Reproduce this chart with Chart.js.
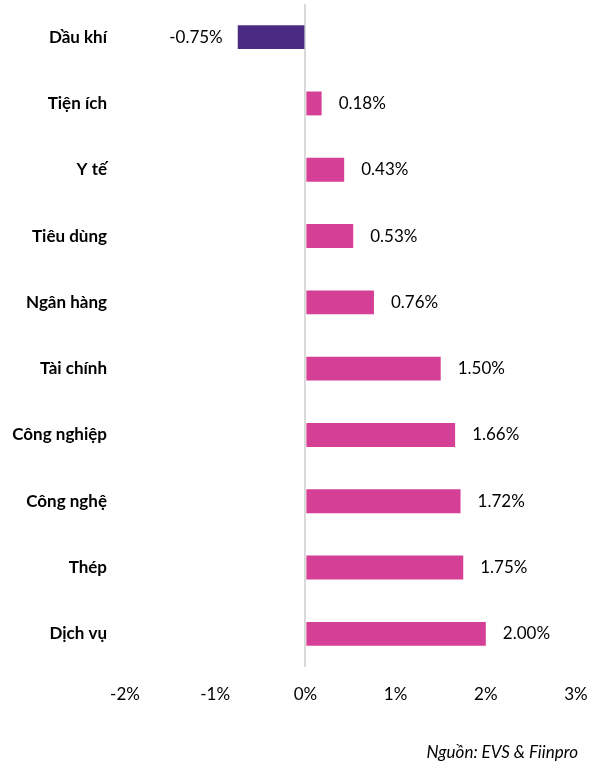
<!DOCTYPE html>
<html>
<head>
<meta charset="utf-8">
<script src="https://cdn.jsdelivr.net/npm/chart.js@4"></script>
<style>
  html, body { margin: 0; padding: 0; background: #fff; }
  #wrap { width: 589px; height: 765px; }
</style>
</head>
<body>
<div id="wrap"><canvas id="chart" width="589" height="765"></canvas></div>
<script>
const sectors = ["Dầu khí", "Tiện ích", "Y tế", "Tiêu dùng", "Ngân hàng", "Tài chính", "Công nghiệp", "Công nghệ", "Thép", "Dịch vụ"];
const changes = [-0.75, 0.18, 0.43, 0.53, 0.76, 1.50, 1.66, 1.72, 1.75, 2.00];
const xTicks = [-2, -1, 0, 1, 2, 3];
const sourceNote = "Nguồn: EVS & Fiinpro";

const FONT = "Lato, 'Open Sans', sans-serif";
const FS = 17;

// nhãn giá trị cạnh mỗi thanh + ghi chú nguồn
const valueLabels = {
  id: "valueLabels",
  afterDatasetsDraw(chart) {
    const ctx = chart.ctx;
    const meta = chart.getDatasetMeta(0);
    const xs = chart.scales.x;
    ctx.save();
    ctx.font = FS + "px " + FONT;
    ctx.fillStyle = "#000";
    ctx.textBaseline = "middle";
    meta.data.forEach((bar, i) => {
      const v = changes[i];
      const px = xs.getPixelForValue(v);
      const txt = v.toFixed(2) + "%";
      if (v < 0) {
        ctx.textAlign = "right";
        ctx.fillText(txt, px - 15, bar.y);
      } else {
        ctx.textAlign = "left";
        ctx.fillText(txt, px + 17, bar.y);
      }
    });
    ctx.font = "italic " + FS + "px " + FONT;
    ctx.textAlign = "right";
    ctx.fillText(sourceNote, 578, 753);
    ctx.restore();
  },
};

new Chart(document.getElementById("chart"), {
  type: "bar",
  data: {
    labels: sectors,
    datasets: [{
      data: changes,
      backgroundColor: changes.map((v) => (v < 0 ? "#4b2a84" : "#d63f96")),
      categoryPercentage: 1,
      barPercentage: 0.36,
    }],
  },
  options: {
    indexAxis: "y",
    responsive: false,
    animation: false,
    layout: { padding: { top: 4, right: 13, left: 0, bottom: 0 } },
    plugins: { legend: { display: false }, tooltip: { enabled: false } },
    scales: {
      x: {
        min: -2,
        max: 3,
        afterBuildTicks: (s) => { s.ticks = xTicks.map((v) => ({ value: v })); },
        afterFit: (s) => {
          s.height = 98;
          s.paddingLeft = 0;
          s.paddingRight = 0;
        },
        border: { display: false },
        grid: {
          drawTicks: false,
          lineWidth: 2,
          color: (c) => (c.tick && c.tick.value === 0 ? "#d9d9d9" : "rgba(0,0,0,0)"),
        },
        ticks: {
          padding: 17,
          maxRotation: 0,
          color: "#000",
          font: { family: FONT, size: FS },
          callback: (v) => v + "%",
        },
      },
      y: {
        afterFit: (s) => {
          s.width = 125;
          s.paddingTop = 0;
          s.paddingBottom = 0;
        },
        border: { display: false },
        grid: { display: false, drawTicks: false },
        ticks: {
          padding: 18,
          color: "#000",
          font: { family: FONT, size: FS, weight: "bold" },
        },
      },
    },
  },
  plugins: [valueLabels],
});
</script>
</body>
</html>
